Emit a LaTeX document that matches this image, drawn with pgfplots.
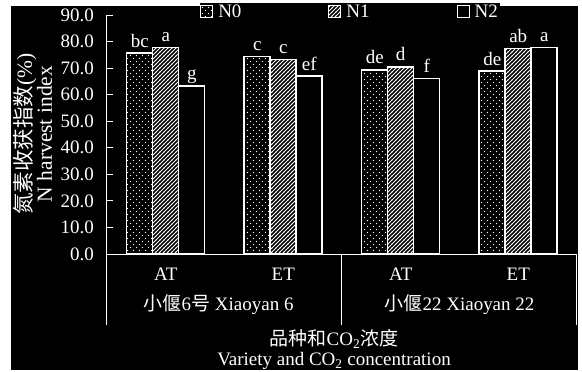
\documentclass[border=0pt]{standalone}
\usepackage{fontspec}
\setmainfont{Liberation Serif}
\newfontfamily\cjk{Noto Sans CJK SC}
\usepackage{pgfplots}
\pgfplotsset{compat=1.18}
\usetikzlibrary{patterns}
\pgfdeclarepatternformonly{mydots}{\pgfqpoint{-1pt}{-1pt}}{\pgfqpoint{7pt}{7pt}}{\pgfqpoint{6pt}{6pt}}{%
  \pgfpathcircle{\pgfqpoint{1.5pt}{1.5pt}}{0.7pt}%
  \pgfpathcircle{\pgfqpoint{4.5pt}{4.5pt}}{0.7pt}%
  \pgfusepath{fill}}
\pgfdeclarepatternformonly{myhatch}{\pgfqpoint{-1pt}{-1pt}}{\pgfqpoint{5pt}{5pt}}{\pgfqpoint{4pt}{4pt}}{%
  \pgfsetlinewidth{0.8pt}%
  \pgfpathmoveto{\pgfqpoint{-0.5pt}{-0.5pt}}%
  \pgfpathlineto{\pgfqpoint{4.5pt}{4.5pt}}%
  \pgfusepath{stroke}}
\newcommand\fs{\fontsize{19}{20}\selectfont}
\newcommand\fy{\fontsize{21.5}{20}\selectfont}
\begin{document}
\begin{tikzpicture}[x=1pt,y=1pt]
\useasboundingbox (0,0) rectangle (582,-372);
\fill[white] (0,0) rectangle (582,-372);
\fill[black] (11,-6) rectangle (578,-370);
\begin{axis}[
  at={(107pt,-254pt)}, anchor=south west,
  scale only axis, width=470pt, height=239pt,
  xmin=-0.5, xmax=3.5, ymin=0, ymax=90,
  enlargelimits=false, clip=false,
  axis x line*=bottom, axis y line*=left,
  axis line style={white, line width=1pt, -},
  ybar=0pt, bar width=26pt,
  ytick={0,10,...,90},
  y tick label style={white, font=\fs, inner sep=0pt, xshift=-13pt},
  yticklabel style={/pgf/number format/fixed, /pgf/number format/fixed zerofill, /pgf/number format/precision=1, /pgf/number format/assume math mode=true},
  tick align=inside, major tick length=6pt,
  ytick style={white, line width=1pt},
  xtick={0,1,2,3}, xticklabels={AT,ET,AT,ET},
  xtick style={draw=none},
  x tick label style={white, font=\fs, inner sep=0pt, yshift=-14pt, anchor=north},
  legend columns=3,
  legend style={draw=none, fill=black, text=white, font=\fs, at={(0.198,1.0126)}, anchor=west, inner sep=0pt,
    /tikz/every odd column/.append style={column sep=3pt},
    /tikz/every even column/.append style={column sep=85pt}},
  nodes near coords, point meta=explicit symbolic,
  every node near coord/.append style={white, font=\fs, inner sep=0pt, anchor=base, yshift=6pt},
  sqleg/.style={legend image code/.code={\draw[##1, line width=1pt] (0pt,-6pt) rectangle (12pt,6pt);}},
]
\addplot[draw=white, line width=1.5pt, pattern=mydots, pattern color=white, sqleg] coordinates {(0,75.6) [bc] (1,74.3) [c] (2,69.3) [de] (3,68.9) [de]};
\addplot[draw=white, line width=1.5pt, pattern=myhatch, pattern color=white, sqleg] coordinates {(0,77.7) [a] (1,73.3) [c] (2,70.5) [d] (3,77.3) [ab]};
\addplot[draw=white, line width=1.5pt, fill=black, sqleg] coordinates {(0,63.3) [g] (1,67.0) [ef] (2,66.0) [f] (3,77.7) [a]};
\legend{N0,N1,N2}
\draw[white, line width=1pt] (axis cs:-0.5,0) -- ([yshift=-71pt]axis cs:-0.5,0);
\draw[white, line width=1pt] (axis cs:1.5,0) -- ([yshift=-71pt]axis cs:1.5,0);
\draw[white, line width=1pt] (axis cs:3.5,0) -- ([yshift=-71pt]axis cs:3.5,0);
\node[white, font=\fs, inner sep=0pt] at ([yshift=-51pt]axis cs:0.45,0) {{\cjk 小偃}6{\cjk 号} Xiaoyan 6};
\node[white, font=\fs, inner sep=0pt] at ([yshift=-51pt]axis cs:2.5,0) {{\cjk 小偃}22 Xiaoyan 22};
\end{axis}
\node[white, font=\fs, align=center, inner sep=0pt] at (334,-350) {{\cjk 品种和}CO\textsubscript{2}{\cjk 浓度}\\Variety and CO\textsubscript{2} concentration};
\node[white, font=\fy, align=center, inner sep=0pt, rotate=90] at (33,-134) {{\cjk 氮素收获指数}(\%)\\N harvest index};
\end{tikzpicture}
\end{document}
